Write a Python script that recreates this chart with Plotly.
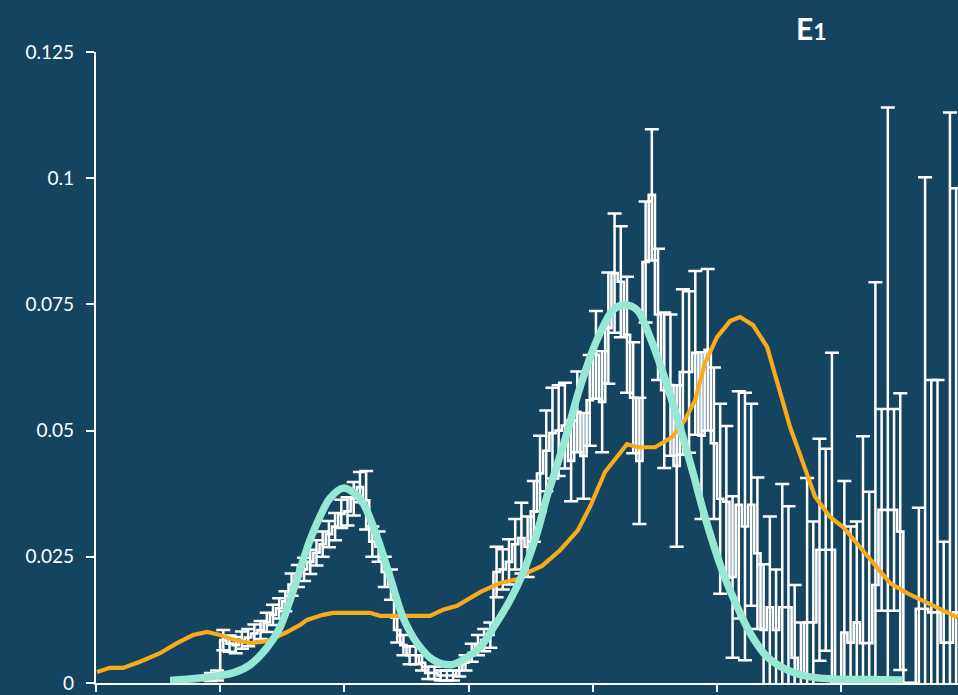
import plotly.graph_objects as go

# Histogram: first bin starts at x = 0.9, uniform bin width
BIN_START = 0.9
BIN_WIDTH = 0.05

bin_heights = [
    0.0012, 0.0015, 0.0085, 0.0078, 0.0075, 0.0085, 0.009, 0.0098, 0.0105, 0.012,
    0.0135, 0.0148, 0.0162, 0.0195, 0.0212, 0.0225, 0.024, 0.0258, 0.0275, 0.0295,
    0.031, 0.0335, 0.034, 0.0365, 0.0388, 0.0362, 0.028, 0.027, 0.022, 0.0195,
    0.0105, 0.0075, 0.0055, 0.0055, 0.004, 0.002, 0.002, 0.0015, 0.0015, 0.0015,
    0.0025, 0.004, 0.006, 0.0075, 0.0085, 0.0095, 0.022, 0.0225, 0.024, 0.0275,
    0.0287, 0.027, 0.034, 0.0415, 0.046, 0.0495, 0.050, 0.051, 0.044, 0.0537,
    0.045, 0.056, 0.065, 0.0557, 0.0703, 0.0812, 0.0795, 0.069, 0.0565, 0.044,
    0.0834, 0.0967, 0.073, 0.058, 0.059, 0.043, 0.0616, 0.0616, 0.0654, 0.049,
    0.066, 0.0475, 0.0365, 0.0359, 0.021, 0.0353, 0.031, 0.0353, 0.0257, 0.0105,
    0.015, 0.0105, 0.015, 0.015, 0.005, 0.002, 0.012, 0.012, 0.0264, 0.0264,
    0.0264, 0.0, 0.01, 0.008, 0.012, 0.0079, 0.0079, 0.0194, 0.0343, 0.0343,
    0.0343, 0.030, 0.0, 0.0, 0.0147, 0.0147, 0.014, 0.014, 0.008, 0.008,
    0.014,
]

bin_errors = [
    0.0008, 0.001, 0.002, 0.0016, 0.0016, 0.0017, 0.0017, 0.0018, 0.0018, 0.0019,
    0.002, 0.002, 0.002, 0.0022, 0.0022, 0.0023, 0.0024, 0.0025, 0.0025, 0.0026,
    0.0027, 0.0028, 0.0028, 0.0033, 0.003, 0.0058, 0.003, 0.003, 0.003, 0.003,
    0.0025, 0.002, 0.0018, 0.0018, 0.0015, 0.0012, 0.0012, 0.001, 0.001, 0.001,
    0.0012, 0.0015, 0.0018, 0.002, 0.0022, 0.0025, 0.005, 0.004, 0.0045, 0.005,
    0.007, 0.006, 0.006, 0.0075, 0.008, 0.009, 0.009, 0.0085, 0.008, 0.008,
    0.0085, 0.009, 0.0087, 0.01, 0.011, 0.0118, 0.011, 0.0115, 0.011, 0.0125,
    0.012, 0.013, 0.013, 0.0154, 0.014, 0.016, 0.0164, 0.016, 0.0162, 0.0165,
    0.016, 0.015, 0.0188, 0.015, 0.016, 0.0225, 0.0265, 0.02, 0.015, 0.013,
    0.018, 0.012, 0.0244, 0.02, 0.0144, 0.01, 0.0286, 0.02, 0.022, 0.02,
    0.039, 0.0, 0.03, 0.023, 0.02, 0.041, 0.03, 0.06, 0.02, 0.0797,
    0.02, 0.0274, 0.0, 0.0, 0.02, 0.0855, 0.046, 0.046, 0.02, 0.105,
    0.084,
]

# Two-peak fit curve
fit_x = [0.596, 0.837, 1.103, 1.240, 1.377, 1.481, 1.562, 1.643, 1.723, 1.804,
         1.884, 1.989, 2.069, 2.150, 2.262, 2.367, 2.472, 2.585, 2.713, 2.850,
         2.955, 3.092, 3.172, 3.333, 3.438, 3.551, 3.631, 3.671, 3.792, 3.897,
         4.034, 4.163, 4.243, 4.356, 4.461, 4.565, 4.702, 4.807, 4.903, 5.040,
         5.129, 5.266, 5.403, 5.564, 5.749, 5.934, 6.208, 6.498]
fit_y = [0.0005, 0.001, 0.002, 0.0036, 0.007, 0.011, 0.0164, 0.0224, 0.0283, 0.033,
         0.0366, 0.0386, 0.0378, 0.0356, 0.029, 0.021, 0.013, 0.0079, 0.0046, 0.0036,
         0.0046, 0.0071, 0.0099, 0.0164, 0.0218, 0.0297, 0.037, 0.040, 0.0495, 0.0586,
         0.068, 0.0739, 0.0749, 0.0739, 0.0685, 0.0614, 0.0507, 0.0416, 0.0329, 0.0224,
         0.017, 0.0099, 0.0052, 0.0026, 0.0012, 0.0008, 0.0007, 0.0006]

# Reference distribution
ref_x = [0.008, 0.113, 0.217, 0.354, 0.515, 0.652, 0.781, 0.894, 0.998, 1.103,
         1.240, 1.377, 1.538, 1.643, 1.699, 1.828, 1.908, 2.206, 2.287, 2.689,
         2.794, 2.907, 3.092, 3.253, 3.398, 3.470, 3.591, 3.736, 3.881, 3.977,
         4.098, 4.275, 4.364, 4.501, 4.638, 4.742, 4.823, 4.903, 5.000, 5.105,
         5.185, 5.290, 5.403, 5.483, 5.588, 5.692, 5.789, 5.910, 6.014, 6.151,
         6.288, 6.393, 6.530, 6.691, 6.852, 6.940]
ref_y = [0.0022, 0.003, 0.003, 0.0042, 0.0059, 0.0079, 0.0095, 0.0101, 0.0095, 0.0086,
         0.0079, 0.0083, 0.0101, 0.0115, 0.0125, 0.0135, 0.0139, 0.0139, 0.0133, 0.0133,
         0.0145, 0.0153, 0.018, 0.0198, 0.0206, 0.0218, 0.0232, 0.0263, 0.0303, 0.0349,
         0.0418, 0.0473, 0.0467, 0.0467, 0.0487, 0.0521, 0.056, 0.0634, 0.0685, 0.0717,
         0.0725, 0.0709, 0.0666, 0.0594, 0.0507, 0.0436, 0.0369, 0.0329, 0.0309, 0.0269,
         0.023, 0.0198, 0.0178, 0.016, 0.014, 0.0129]

y_ticks = [0, 0.025, 0.05, 0.075, 0.1, 0.125]
y_tick_text = ["0", "0.025", "0.05", "0.075", "0.1", "0.125"]
x_ticks = [0, 1, 2, 3, 4, 5, 6]

BG = "rgb(20,68,95)"
WHITE = "#ffffff"
TEAL = "#96e8d5"
ORANGE = "#f9ab1c"

n = len(bin_heights)
edges = [BIN_START + i * BIN_WIDTH for i in range(n + 1)]
centers = [BIN_START + (i + 0.5) * BIN_WIDTH for i in range(n)]

fig = go.Figure()

# step outline of the histogram
fig.add_trace(go.Scatter(
    x=edges, y=bin_heights + [bin_heights[-1]],
    mode="lines", line=dict(color=WHITE, width=2.6, shape="hv"),
    hoverinfo="skip", showlegend=False,
))

# statistical uncertainties at bin centres
fig.add_trace(go.Scatter(
    x=centers, y=bin_heights, mode="markers",
    marker=dict(size=1, color="rgba(0,0,0,0)"),
    error_y=dict(type="data", array=bin_errors, visible=True,
                 color=WHITE, thickness=2.5, width=7),
    hoverinfo="skip", showlegend=False,
))

fig.add_trace(go.Scatter(
    x=ref_x, y=ref_y, mode="lines",
    line=dict(color=ORANGE, width=4.2),
    hoverinfo="skip", showlegend=False,
))

fig.add_trace(go.Scatter(
    x=fit_x, y=fit_y, mode="lines",
    line=dict(color=TEAL, width=7.5, shape="spline", smoothing=1.0),
    hoverinfo="skip", showlegend=False,
))

fig.update_layout(
    width=958, height=695,
    margin=dict(l=96, r=0, t=52, b=12),
    paper_bgcolor=BG, plot_bgcolor=BG,
    font=dict(family="Lato, sans-serif", color=WHITE, size=19),
    xaxis=dict(
        range=[0, 6.94], tickvals=x_ticks, showticklabels=False,
        showgrid=False, zeroline=False, showline=True,
        linecolor=WHITE, linewidth=2.2,
        ticks="outside", ticklen=7, tickwidth=2.2, tickcolor=WHITE,
    ),
    yaxis=dict(
        range=[0, 0.125], tickvals=y_ticks, ticktext=y_tick_text,
        showgrid=False, zeroline=False, showline=True,
        linecolor=WHITE, linewidth=2.2,
        ticks="outside", ticklen=8, tickwidth=2.2, tickcolor=WHITE,
        ticklabelstandoff=8,
        tickfont=dict(size=19, color=WHITE),
    ),
    annotations=[dict(
        text="<b>E<span style='font-size:23px'>1</span></b>",
        xref="paper", yref="paper", x=0.83, y=1.0,
        xanchor="center", yanchor="bottom", yshift=4,
        showarrow=False, font=dict(size=30, color=WHITE, family="Lato, sans-serif"),
    )],
)

fig.write_html("out.html")
